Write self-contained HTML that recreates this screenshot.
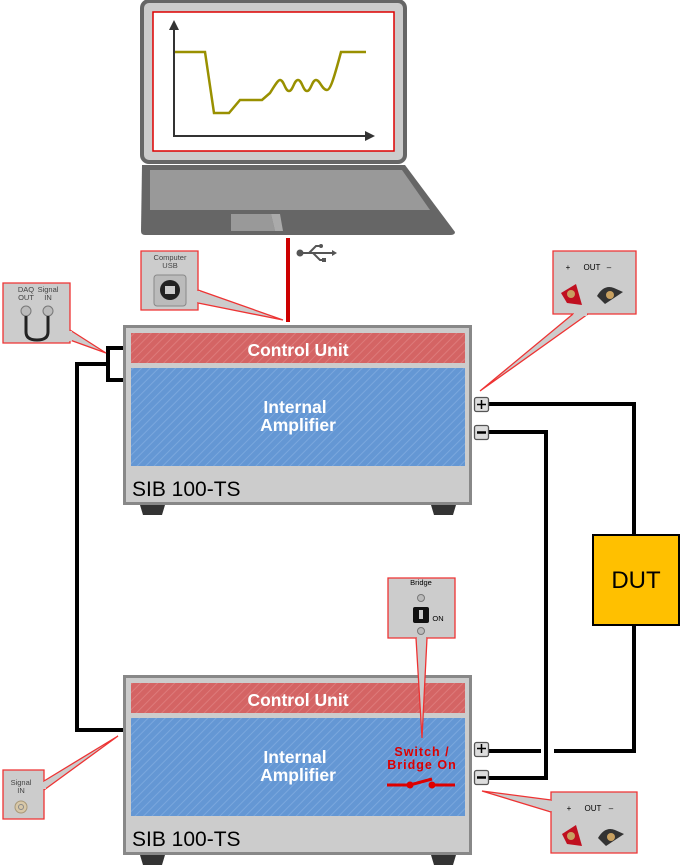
<!DOCTYPE html>
<html><head><meta charset="utf-8"><style>body{margin:0;background:#fff}svg{display:block;font-family:"Liberation Sans",sans-serif}</style></head><body>
<svg width="680" height="865" viewBox="0 0 680 865" xmlns="http://www.w3.org/2000/svg">
<defs>
<pattern id="hr" width="6" height="6" patternUnits="userSpaceOnUse" patternTransform="rotate(45)"><rect width="6" height="6" fill="#d46464"/><rect width="1" height="6" fill="#dd7a7a"/></pattern>
<pattern id="hb" width="6" height="6" patternUnits="userSpaceOnUse" patternTransform="rotate(45)"><rect width="6" height="6" fill="#6497d4"/><rect width="1" height="6" fill="#7aa7dd"/></pattern>
</defs>
<rect x="142" y="1" width="263" height="161" rx="7" fill="#ccc" stroke="#666" stroke-width="4"/>
<rect x="153" y="12" width="241" height="139" fill="#fff" stroke="#d00" stroke-width="1.5"/>
<path d="M142,165 H405 L455,232 Q455,235 450,235 H145 Q141,235 141,231 Z" fill="#666"/>
<path d="M150,170 H402 L430,210 H150 Z" fill="#999"/>
<path d="M231,214 H271 L275,231 H231 Z" fill="#999"/><path d="M271,214 H280 L283,231 H275 Z" fill="#aaa"/>
<line x1="174" y1="137" x2="174" y2="28" stroke="#333" stroke-width="2"/><path d="M174,20 L169,30 H179 Z" fill="#333"/>
<line x1="173" y1="136" x2="366" y2="136" stroke="#333" stroke-width="2"/><path d="M375,136 L365,131 V141 Z" fill="#333"/>
<path d="M175,52 H205 L214,113 H229 L240,100 H262 L270,93 C275,85 278,80 280,80 C284,80 285,91 289,91 C293,91 294,80 298,80 C302,80 303,91 307,91 C311,91 312,80 316,80 C320,80 322,90 327,90 C330,90 333,82 341,52 H366" fill="none" stroke="#999000" stroke-width="2.5"/>
<rect x="286" y="238" width="4" height="84" fill="#c00"/>
<g fill="#555" stroke="#555"><circle cx="300" cy="253" r="3.5" stroke="none"/><line x1="300" y1="253" x2="334" y2="253" stroke-width="2"/><path d="M309,253 L316,246 H320 M313,253 L320,260 H323" fill="none" stroke-width="2"/><circle cx="321" cy="246" r="2" stroke="none"/><rect x="322" y="258" width="4" height="4" stroke="none"/><path d="M337,253 L332,250 V256Z" stroke="none"/></g>
<g fill="none" stroke="#000" stroke-width="4">
<path d="M123,348 H108 V380 H123"/>
<path d="M108,364 H77 V730 H123"/>
<path d="M488,404 H634 V535"/>
<path d="M634,625 V751 H554"/>
<path d="M541,751 H488"/>
<path d="M488,432 H546 V778 H488"/>
</g>
<g>
<path d="M140,505 H165 L162,515 H143 Z M431,505 H456 L453,515 H434 Z" fill="#333"/>
<rect x="124.5" y="326.5" width="346" height="177" fill="#ccc" stroke="#888" stroke-width="3"/>
<rect x="131" y="333" width="334" height="30" fill="url(#hr)"/>
<rect x="131" y="368" width="334" height="98" fill="url(#hb)"/>
<text x="298" y="356" fill="#fff" font-size="17.5" font-weight="bold" text-anchor="middle">Control Unit</text>
<text x="295" y="413" fill="#fff" font-size="17.5" font-weight="bold" text-anchor="middle">Internal</text>
<text x="298" y="431" fill="#fff" font-size="17.5" font-weight="bold" text-anchor="middle">Amplifier</text>
<text x="132" y="496" fill="#000" font-size="21">SIB 100-TS</text>
</g>
<g>
<path d="M140,855 H165 L162,865 H143 Z M431,855 H456 L453,865 H434 Z" fill="#333"/>
<rect x="124.5" y="676.5" width="346" height="177" fill="#ccc" stroke="#888" stroke-width="3"/>
<rect x="131" y="683" width="334" height="30" fill="url(#hr)"/>
<rect x="131" y="718" width="334" height="98" fill="url(#hb)"/>
<text x="298" y="706" fill="#fff" font-size="17.5" font-weight="bold" text-anchor="middle">Control Unit</text>
<text x="295" y="763" fill="#fff" font-size="17.5" font-weight="bold" text-anchor="middle">Internal</text>
<text x="298" y="781" fill="#fff" font-size="17.5" font-weight="bold" text-anchor="middle">Amplifier</text>
<text x="132" y="846" fill="#000" font-size="21">SIB 100-TS</text>
<text x="422" y="756" fill="#d00" font-size="12.5" font-weight="bold" text-anchor="middle" letter-spacing="1">Switch /</text>
<text x="422" y="769" fill="#d00" font-size="12.5" font-weight="bold" text-anchor="middle" letter-spacing="1">Bridge On</text>
<path d="M387,785 H410 L432,779 M432,785 H455" stroke="#d00" stroke-width="3" fill="none"/>
<circle cx="410" cy="785" r="3.5" fill="#d00"/><circle cx="432" cy="785" r="3.5" fill="#d00"/>
</g>
<g fill="#ddd" stroke="#555" stroke-width="1.3">
<rect x="474.5" y="397.5" width="14" height="14" rx="2"/><rect x="474.5" y="425.5" width="14" height="14" rx="2"/>
<rect x="474.5" y="742.5" width="14" height="14" rx="2"/><rect x="474.5" y="770.5" width="14" height="14" rx="2"/>
</g>
<g stroke="#000" stroke-width="1.5"><path d="M477,404.5 H486 M481.5,400 V409 M477,748.5 H486 M481.5,744 V753"/><path d="M477,432.5 H486 M477,777.5 H486" stroke-width="2.5"/></g>
<rect x="593" y="535" width="86" height="90" fill="#ffc000" stroke="#000" stroke-width="2"/>
<text x="636" y="588" font-size="24" text-anchor="middle">DUT</text>
<g fill="#ccc" stroke="#e33" stroke-width="1.3">
<path d="M3,283 H70 V343 H3 Z"/><path d="M70,330 L106,353 L70,340" />
<path d="M141,251 H198 V310 H141 Z"/><path d="M198,290 L283,320 L198,303"/>
<path d="M553,251 H636 V314 H553 Z"/><path d="M573,314 L480,391 L588,314"/>
<path d="M388,578 H455 V638 H388 Z"/><path d="M416,638 L422,738 L427,638"/>
<path d="M3,770 H44 V819 H3 Z"/><path d="M44,781 L118,736 L44,790"/>
<path d="M551,792 H637 V853 H551 Z"/><path d="M551,800 L482,791 L551,812"/>
</g>
<g fill="#ccc"><rect x="60" y="331" width="12" height="10"/><rect x="190" y="291" width="10" height="11"/><rect x="574" y="308" width="13" height="8"/><rect x="417" y="632" width="9" height="8"/><rect x="38" y="782" width="8" height="7"/><rect x="549" y="801" width="8" height="10"/></g>
<g font-size="7.5" fill="#444" text-anchor="middle">
<text x="26" y="292">DAQ</text><text x="26" y="300">OUT</text><text x="48" y="292">Signal</text><text x="48" y="300">IN</text>
<text x="170" y="260">Computer</text><text x="170" y="268">USB</text>
<text x="421" y="585" fill="#000">Bridge</text><text x="438" y="621" fill="#000">ON</text>
<text x="21" y="785">Signal</text><text x="21" y="793">IN</text>
</g>
<g font-size="8" fill="#000" text-anchor="middle"><text x="568" y="270">+</text><text x="592" y="270">OUT</text><text x="609" y="270">–</text>
<text x="569" y="811">+</text><text x="593" y="811">OUT</text><text x="611" y="811">–</text></g>
<circle cx="26" cy="311" r="5" fill="#bbb" stroke="#777"/><circle cx="48" cy="311" r="5" fill="#bbb" stroke="#777"/>
<path d="M26,316 V332 Q26,340 37,340 Q48,340 48,332 V316" fill="none" stroke="#222" stroke-width="3"/>
<rect x="154" y="275" width="32" height="31" rx="3" fill="#bbb" stroke="#888"/><circle cx="170" cy="290" r="10" fill="#222"/><rect x="165" y="286" width="10" height="8" fill="#ccc"/>
<path d="M561,293 L576,284 L582,305 L567,303 Z" fill="#c01020"/><circle cx="571" cy="294" r="4" fill="#c8a060"/>
<path d="M597,296 Q604,284 614,288 L623,292 L605,304 Z" fill="#333"/><circle cx="610" cy="295" r="4" fill="#c8a060"/>
<path d="M562,834 L576,825 L582,846 L567,844 Z" fill="#c01020"/><circle cx="571" cy="836" r="4" fill="#c8a060"/>
<path d="M598,838 Q605,826 615,830 L624,834 L606,846 Z" fill="#333"/><circle cx="611" cy="837" r="4" fill="#c8a060"/>
<circle cx="421" cy="598" r="3.5" fill="#bbb" stroke="#777"/><circle cx="421" cy="631" r="3.5" fill="#bbb" stroke="#777"/>
<rect x="413" y="607" width="16" height="16" rx="2" fill="#111"/><rect x="419" y="610" width="4" height="9" fill="#ccc"/>
<circle cx="21" cy="807" r="6" fill="#d8c8a8" stroke="#a89878"/><circle cx="21" cy="807" r="2.5" fill="none" stroke="#888"/>
</svg>
</body></html>
